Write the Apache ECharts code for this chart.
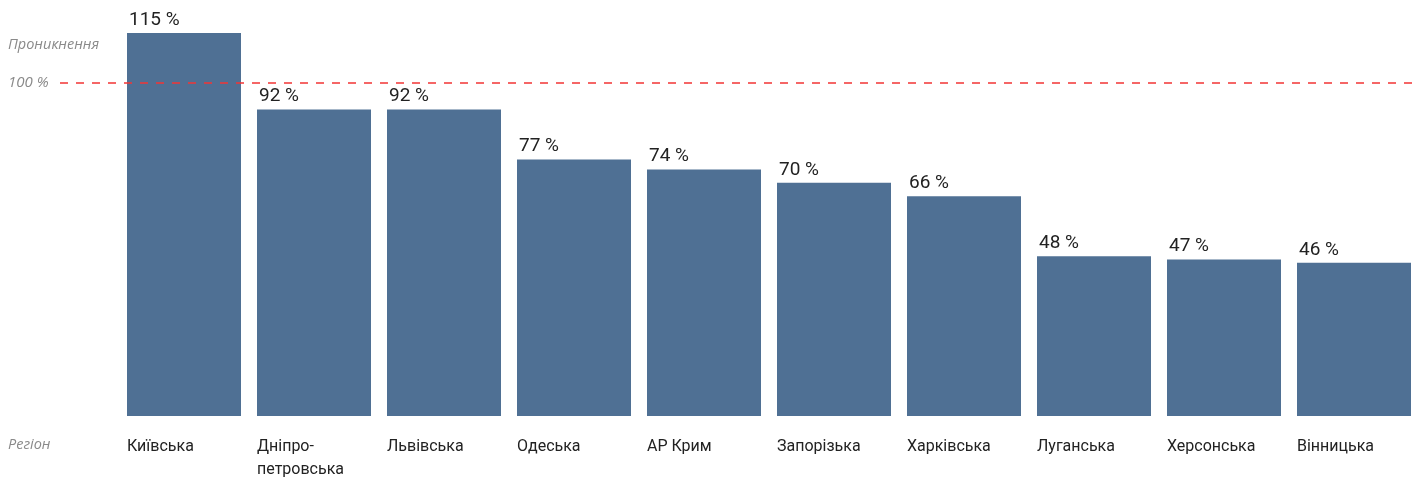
<!DOCTYPE html>
<html>
<head>
<meta charset="utf-8">
<script src="https://cdn.jsdelivr.net/npm/echarts@6/dist/echarts.min.js"></script>
<style>
  html, body { margin: 0; padding: 0; background: #fff; }
  #chart { width: 1415px; height: 478px; }
</style>
</head>
<body>
<div id="chart"></div>
<script>
// регіони та рівень проникнення, %
const regions = ['Київська', 'Дніпро-\nпетровська', 'Львівська', 'Одеська', 'АР Крим',
  'Запорізька', 'Харківська', 'Луганська', 'Херсонська', 'Вінницька'];
const penetration = [115, 92, 92, 77, 74, 70, 66, 48, 47, 46];
const referenceLevel = [100];

const chart = echarts.init(document.getElementById('chart'));

chart.setOption({
  animation: false,
  textStyle: { fontFamily: 'Roboto' },
  title: [
    {
      text: 'Проникнення', left: 8, top: 37, padding: 0,
      textStyle: { fontSize: 14.5, fontStyle: 'italic', fontWeight: 'normal', color: '#8a8a8a', fontFamily: 'Open Sans' }
    },
    {
      text: 'Регіон', left: 8, top: 437, padding: 0,
      textStyle: { fontSize: 14.5, fontStyle: 'italic', fontWeight: 'normal', color: '#8a8a8a', fontFamily: 'Open Sans' }
    }
  ],
  grid: [
    { left: 119, width: 1300, top: 33, bottom: 62, outerBoundsMode: 'none' },
    // сітка для лінії 100 %
    { left: 60, right: 0, top: 33, bottom: 62, outerBoundsMode: 'none' }
  ],
  xAxis: [
    {
      type: 'category',
      gridIndex: 0,
      data: regions,
      axisLine: { show: false },
      axisTick: { show: false },
      axisLabel: {
        interval: 0,
        margin: 19,
        width: 114,
        formatter: v => v.split('\n').map(s => '{a|' + s + '}').join('\n'),
        rich: {
          a: { align: 'left', fontSize: 16, color: '#222', lineHeight: 23, fontFamily: 'Roboto' }
        }
      }
    },
    { type: 'value', gridIndex: 1, min: 0, max: 1, show: false }
  ],
  yAxis: [
    { type: 'value', gridIndex: 0, min: 0, max: 115, show: false },
    {
      type: 'value',
      gridIndex: 1,
      min: 0,
      max: 115,
      axisLine: { show: false },
      axisTick: { show: false },
      splitLine: { show: false },
      axisLabel: {
        customValues: referenceLevel,
        align: 'left',
        margin: 52,
        formatter: '{value} %',
        fontSize: 15,
        fontStyle: 'italic',
        color: '#8a8a8a',
        fontFamily: 'Open Sans'
      }
    }
  ],
  series: [
    {
      type: 'line',
      xAxisIndex: 1,
      yAxisIndex: 1,
      data: [],
      z: 1,
      markLine: {
        silent: true,
        symbol: 'none',
        label: { show: false },
        lineStyle: { color: '#f23434', type: [8, 8], width: 1.5 },
        data: referenceLevel.map(v => ({ yAxis: v }))
      }
    },
    {
      type: 'bar',
      xAxisIndex: 0,
      yAxisIndex: 0,
      data: penetration,
      barWidth: 114,
      z: 3,
      itemStyle: { color: '#4f7094' },
      label: {
        show: true,
        position: [2, -13],
        align: 'left',
        verticalAlign: 'middle',
        formatter: '{c} %',
        fontSize: 19,
        color: '#222'
      }
    }
  ]
});
</script>
</body>
</html>
